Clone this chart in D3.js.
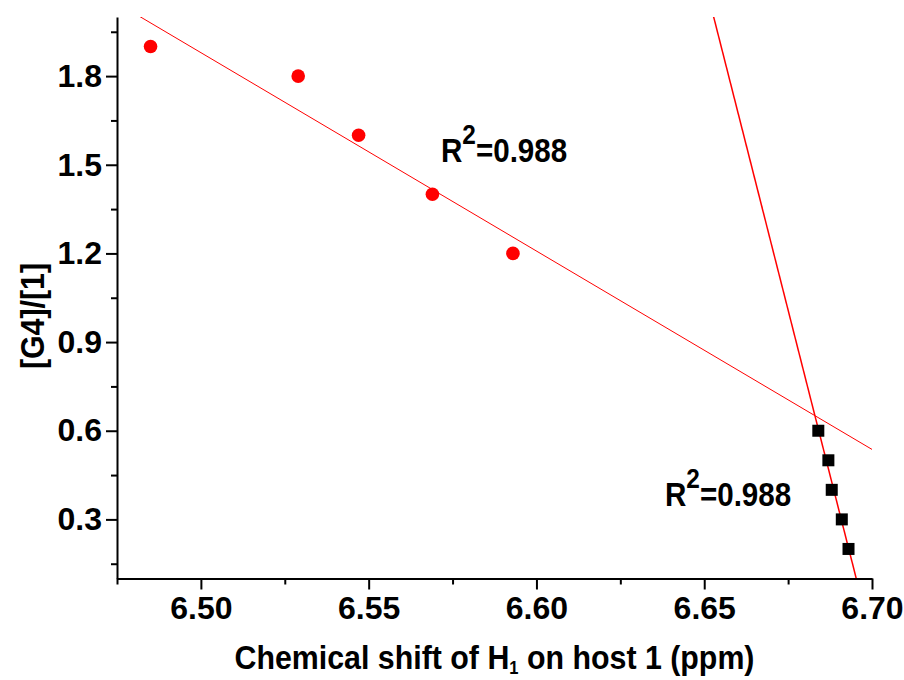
<!DOCTYPE html>
<html>
<head>
<meta charset="utf-8">
<script src="https://cdn.jsdelivr.net/npm/d3@7"></script>
<style>
  body { margin: 0; background: #fff; }
  text { font-family: "Liberation Sans", Arial, sans-serif; font-weight: bold; }
</style>
</head>
<body>
<script>
// red circles: high ratio set
var shiftRed = [6.485, 6.529, 6.547, 6.569, 6.593];
var ratioRed = [1.9, 1.8, 1.6, 1.4, 1.2];
// black squares: low ratio set
var shiftBlack = [6.684, 6.687, 6.688, 6.691, 6.693];
var ratioBlack = [0.6, 0.5, 0.4, 0.3, 0.2];

var xTicks = [6.50, 6.55, 6.60, 6.65, 6.70];
var xMinor = [6.475, 6.525, 6.575, 6.625, 6.675];
var yTicks = [0.3, 0.6, 0.9, 1.2, 1.5, 1.8];
var yMinor = [0.15, 0.45, 0.75, 1.05, 1.35, 1.65, 1.95];
var r2Labels = ["0.988", "0.988"];

var width = 904;
var height = 680;
var margin = {top: 17, right: 32, bottom: 101.5, left: 117};

var svg = d3.select("body")
  .append("svg")
  .attr("width", width)
  .attr("height", height);

var x = d3.scaleLinear()
  .domain([6.475, 6.70])
  .range([margin.left, width - margin.right]);

var y = d3.scaleLinear()
  .domain([0.1, 2.0])
  .range([height - margin.bottom, margin.top]);

svg.append("clipPath")
  .attr("id", "plotclip")
  .append("rect")
  .attr("x", margin.left)
  .attr("y", margin.top)
  .attr("width", x.range()[1] - margin.left)
  .attr("height", y.range()[0] - margin.top);

// least squares fit, returns [slope, intercept]
function linearFit(xs, ys) {
  var mx = d3.mean(xs), my = d3.mean(ys);
  var sxy = 0, sxx = 0;
  for (var i = 0; i < xs.length; i++) {
    sxy += (xs[i] - mx) * (ys[i] - my);
    sxx += (xs[i] - mx) * (xs[i] - mx);
  }
  var b = sxy / sxx;
  return [b, my - b * mx];
}

function fitPoints(xs, ys) {
  var f = linearFit(xs, ys);
  // extend across the whole x range; clipping trims it to the frame
  var x0 = x.domain()[0], x1 = x.domain()[1];
  return [[x0, f[0] * x0 + f[1]], [x1, f[0] * x1 + f[1]]];
}

var line = d3.line()
  .x(function(d) { return x(d[0]); })
  .y(function(d) { return y(d[1]); });

var plot = svg.append("g").attr("clip-path", "url(#plotclip)");

plot.append("path")
  .attr("d", line(fitPoints(shiftRed, ratioRed)))
  .attr("fill", "none")
  .attr("stroke", "#ff0000")
  .attr("stroke-width", 1);

plot.append("path")
  .attr("d", line(fitPoints(shiftBlack, ratioBlack)))
  .attr("fill", "none")
  .attr("stroke", "#ff0000")
  .attr("stroke-width", 1.5);

svg.selectAll("circle")
  .data(d3.zip(shiftRed, ratioRed))
  .enter()
  .append("circle")
  .attr("cx", function(d) { return x(d[0]); })
  .attr("cy", function(d) { return y(d[1]); })
  .attr("r", 6.8)
  .attr("fill", "#ff0000");

var sq = 12;
svg.selectAll("rect.sq")
  .data(d3.zip(shiftBlack, ratioBlack))
  .enter()
  .append("rect")
  .attr("class", "sq")
  .attr("x", function(d) { return x(d[0]) - sq / 2; })
  .attr("y", function(d) { return y(d[1]) - sq / 2; })
  .attr("width", sq)
  .attr("height", sq)
  .attr("fill", "#000");

// axes
var xAxis = svg.append("g")
  .attr("transform", "translate(0," + y.range()[0] + ")")
  .call(d3.axisBottom(x).tickValues(xTicks).tickFormat(d3.format(".2f"))
    .tickSize(11).tickSizeOuter(0).tickPadding(7));

svg.append("g")
  .attr("transform", "translate(0," + y.range()[0] + ")")
  .call(d3.axisBottom(x).tickValues(xMinor).tickFormat("").tickSize(6).tickSizeOuter(0))
  .select(".domain").remove();

var yAxis = svg.append("g")
  .attr("transform", "translate(" + margin.left + ",0)")
  .call(d3.axisLeft(y).tickValues(yTicks).tickFormat(d3.format(".1f"))
    .tickSize(11).tickSizeOuter(0).tickPadding(4));

svg.append("g")
  .attr("transform", "translate(" + margin.left + ",0)")
  .call(d3.axisLeft(y).tickValues(yMinor).tickFormat("").tickSize(6).tickSizeOuter(0))
  .select(".domain").remove();

svg.selectAll(".domain, .tick line")
  .attr("stroke", "#000")
  .attr("stroke-width", 2);

svg.selectAll(".tick text")
  .attr("fill", "#000")
  .style("font-size", "32px")
  .style("font-family", "'Liberation Sans', Arial, sans-serif")
  .style("font-weight", "bold");

// axis titles (the original font is a bit narrow, so squeeze horizontally)
var xTitle = svg.append("g")
  .attr("transform", "translate(" + (x.range()[0] + x.range()[1]) / 2 + ",669) scale(0.92,1)")
  .append("text")
  .attr("text-anchor", "middle")
  .style("font-size", "33px");
xTitle.append("tspan").text("Chemical shift of H");
xTitle.append("tspan").attr("dy", 5).style("font-size", "18px").text("1");
xTitle.append("tspan").attr("dy", -5).text(" on host 1 (ppm)");

svg.append("g")
  .attr("transform", "translate(44,316) rotate(-90) scale(0.92,1)")
  .append("text")
  .attr("text-anchor", "middle")
  .style("font-size", "33px")
  .text("[G4]/[1]");

// R^2 annotations
function r2Label(px, py, value) {
  var t = svg.append("g")
    .attr("transform", "translate(" + px + "," + py + ") scale(0.87,1)")
    .append("text")
    .style("font-size", "34px");
  t.append("tspan").text("R");
  t.append("tspan").attr("dy", -18).style("font-size", "28px").text("2");
  t.append("tspan").attr("dy", 18).text("=" + value);
}
r2Label(441, 161.5, r2Labels[0]);
r2Label(665, 506, r2Labels[1]);
</script>
</body>
</html>
